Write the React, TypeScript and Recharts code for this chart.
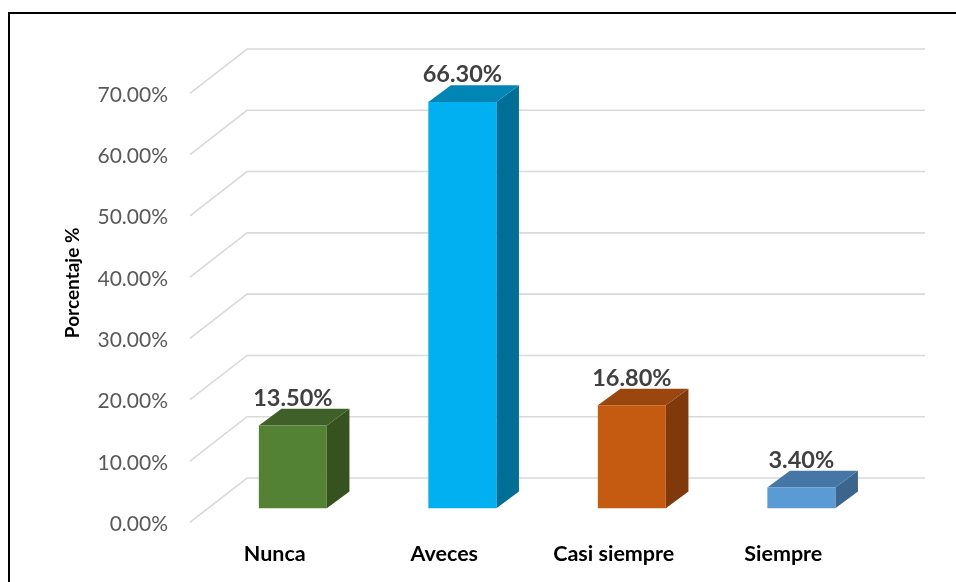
import React from 'react';
import { BarChart, Bar, XAxis, YAxis, CartesianGrid, Cell, LabelList } from 'recharts';

// Survey answers and their share of responses (%)
const categories = ['Nunca', 'Aveces', 'Casi siempre', 'Siempre'];
const percentages = [13.5, 66.3, 16.8, 3.4];
const yTicks = [0, 10, 20, 30, 40, 50, 60, 70];

// Face colours for each bar: front, top, right side
const frontColors = ['#548235', '#00B0F0', '#C55A11', '#5B9BD5'];
const topColors = ['#3F6129', '#0085B5', '#9A460D', '#4576A5'];
const sideColors = ['#36521F', '#006F98', '#7F390B', '#3C658D'];

const data = categories.map((name, i) => ({ name, value: percentages[i], idx: i }));

// Pseudo-3D geometry: depth of each box, and offsets of the front / back walls
const BAR_DX = 22.6;
const BAR_DY = -16.7;
const FRONT_DX = -18;
const FRONT_DY = 14;
const BACK_DX = 39;
const BACK_DY = -30.3;

const FONT = 'Lato, "Open Sans", sans-serif';

const Box3D = (props: any) => {
  const { x, y, width, height, payload } = props;
  const i = payload.idx;
  const front = `M${x},${y} h${width} v${height} h${-width} Z`;
  const top = `M${x},${y} l${BAR_DX},${BAR_DY} h${width} l${-BAR_DX},${-BAR_DY} Z`;
  const side = `M${x + width},${y} l${BAR_DX},${BAR_DY} v${height} l${-BAR_DX},${-BAR_DY} Z`;
  return (
    <g>
      <path d={side} fill={sideColors[i]} />
      <path d={top} fill={topColors[i]} />
      <path d={front} fill={frontColors[i]} />
    </g>
  );
};

// Wall gridline: diagonal floor-to-wall segment, then along the back wall
const WallLine = (props: any) => {
  const { x1, x2, y1 } = props;
  const d = `M${x1 + FRONT_DX},${y1 + FRONT_DY} L${x1 + BACK_DX},${y1 + BACK_DY} L${x2 + BACK_DX},${y1 + BACK_DY}`;
  return <path d={d} fill="none" stroke="#D9D9D9" strokeWidth={1.6} />;
};

const YTick = (props: any) => {
  const { x, y, payload } = props;
  return (
    <text x={x} y={y + FRONT_DY} textAnchor="end" dominantBaseline="central"
      fill="#595959" fontFamily={FONT} fontSize={21}>
      {`${Number(payload.value).toFixed(2)}%`}
    </text>
  );
};

const XTick = (props: any) => {
  const { x, y, payload } = props;
  return (
    <text x={x + FRONT_DX} y={y + 53} textAnchor="middle" fill="#000000"
      fontFamily={FONT} fontWeight={700} fontSize={21.5}>
      {payload.value}
    </text>
  );
};

const ValueLabel = (props: any) => {
  const { x, y, width, value } = props;
  return (
    <text x={x + width / 2} y={y + BAR_DY - 3} textAnchor="middle" fill="#404040"
      fontFamily={FONT} fontWeight={700} fontSize={23.5}>
      {`${Number(value).toFixed(2)}%`}
    </text>
  );
};

const AxisTitle = (props: any) => {
  const { viewBox } = props;
  const cx = viewBox.x - 76;
  const cy = viewBox.y + viewBox.height / 2 - 11;
  return (
    <text x={cx} y={cy} transform={`rotate(-90, ${cx}, ${cy})`} textAnchor="middle"
      dominantBaseline="central" fill="#000000" fontFamily={FONT} fontWeight={700} fontSize={19}>
      Porcentaje %
    </text>
  );
};

export default function App() {
  return (
    <div style={{ position: 'relative', width: 940, height: 566 }}>
      {/* Chart frame: its right and bottom edges run past the window */}
      <div style={{
        position: 'fixed', left: 8, top: 12, width: 1200, height: 1200,
        borderTop: '2.5px solid #000', borderLeft: '2.5px solid #000',
        pointerEvents: 'none',
      }} />
      <div style={{ position: 'absolute', left: 0, top: 0 }}>
        <BarChart width={940} height={566} data={data}
          margin={{ top: 71.3, right: 62, bottom: 35.7, left: 140 }}
          barCategoryGap="30%">
          <CartesianGrid vertical={false} horizontal={(p: any) => <WallLine key={p.key ?? p.index} {...p} />} />
          <XAxis dataKey="name" axisLine={false} tickLine={false} tickSize={0} tickMargin={0}
            height={30} tick={<XTick />} interval={0} />
          <YAxis domain={[0, 70]} ticks={yTicks} axisLine={false} tickLine={false}
            tickSize={0} tickMargin={40} width={60} tick={<YTick />}
            label={<AxisTitle />} />
          <Bar dataKey="value" isAnimationActive={false} shape={<Box3D />}>
            {data.map((d) => <Cell key={d.name} fill={frontColors[d.idx]} />)}
            <LabelList dataKey="value" content={<ValueLabel />} />
          </Bar>
        </BarChart>
      </div>
    </div>
  );
}
